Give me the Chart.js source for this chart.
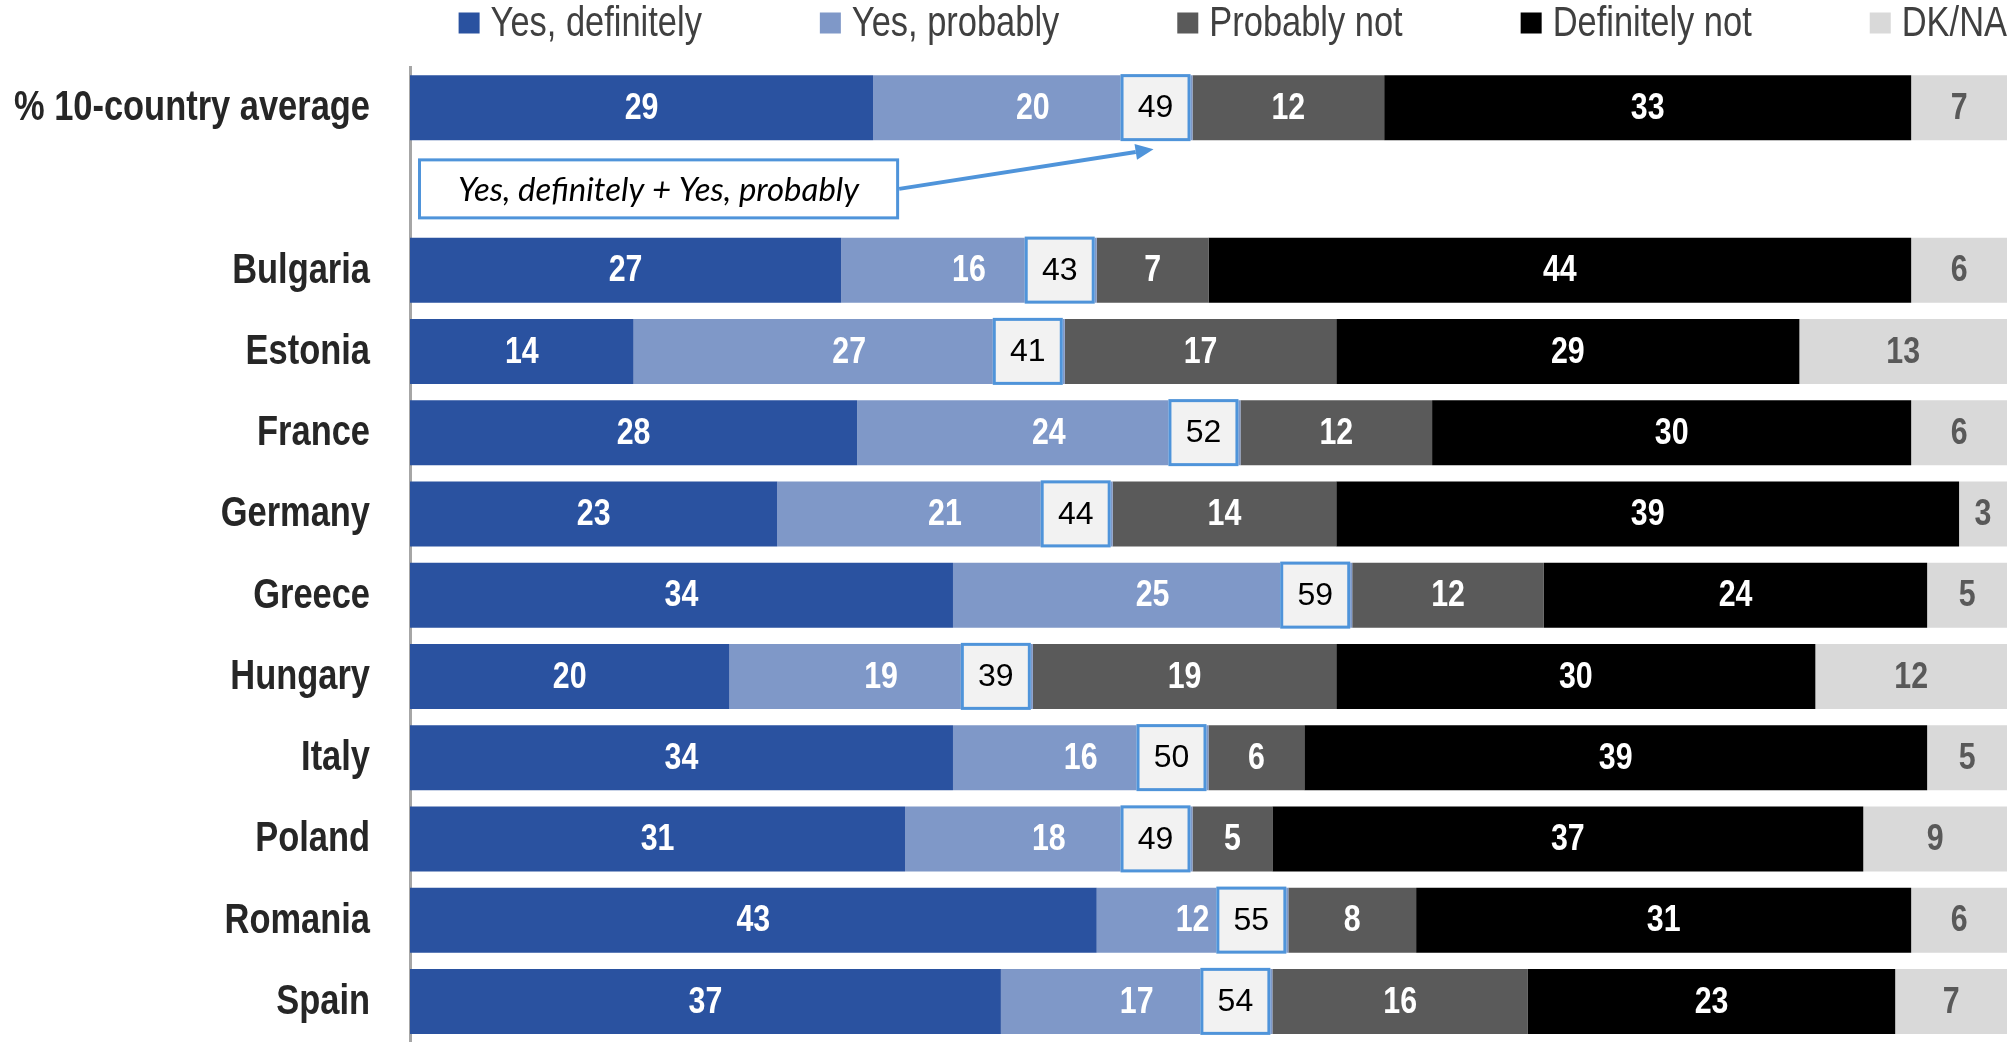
<!DOCTYPE html>
<html>
<head>
<meta charset="utf-8">
<script src="https://cdn.jsdelivr.net/npm/chart.js@4.4.1/dist/chart.umd.min.js"></script>
<style>
  html, body { margin: 0; padding: 0; background: #ffffff; overflow: hidden; }
  canvas { display: block; }
</style>
</head>
<body>
<canvas id="barChart" width="2015" height="1042"></canvas>
<script>
// categories (the empty one holds the annotation box)
var categories = ['% 10-country average', '', 'Bulgaria', 'Estonia', 'France', 'Germany', 'Greece',
                  'Hungary', 'Italy', 'Poland', 'Romania', 'Spain'];
var seriesNames = ['Yes, definitely', 'Yes, probably', 'Probably not', 'Definitely not', 'DK/NA'];

var yesDefinitely = [29, null, 27, 14, 28, 23, 34, 20, 34, 31, 43, 37];
var yesProbably   = [20, null, 16, 27, 24, 21, 25, 19, 16, 18, 12, 17];
var probablyNot   = [12, null, 7, 17, 12, 14, 12, 19, 6, 5, 8, 16];
var definitelyNot = [33, null, 44, 29, 30, 39, 24, 30, 39, 37, 31, 23];
var dkNa          = [7, null, 6, 13, 6, 3, 5, 12, 5, 9, 6, 7];
// Yes, definitely + Yes, probably
var yesTotal      = [49, null, 43, 41, 52, 44, 59, 39, 50, 49, 55, 54];
var annotationText = 'Yes, definitely + Yes, probably';

var colors = ['#2a52a0', '#7f98c8', '#5a5a5a', '#000000', '#d9d9d9'];
var labelColors = ['#ffffff', '#ffffff', '#ffffff', '#ffffff', '#595959'];
var SANS = "'Liberation Sans', Arial, sans-serif";
var NARROW = 0.82; // no narrow face installed, so squeeze Liberation Sans like Arial Narrow

var seriesData = [yesDefinitely, yesProbably, probablyNot, definitelyNot, dkNa];
var datasets = [];
for (var s = 0; s < seriesData.length; s++) {
    datasets.push({
        label: seriesNames[s],
        data: seriesData[s],
        backgroundColor: colors[s],
        borderWidth: 0,
        barPercentage: 0.8,
        categoryPercentage: 1.0
    });
}

function narrowText(ctx, text, x, y, align) {
    ctx.save();
    ctx.translate(x, y);
    ctx.scale(NARROW, 1);
    ctx.textAlign = align;
    ctx.fillText(text, 0, 0);
    ctx.restore();
}

// value labels inside segments + the total boxes + the annotation
var overlayPlugin = {
    id: 'overlay',
    afterDatasetsDraw: function(chart) {
        var ctx = chart.ctx;
        var area = chart.chartArea;
        var xScale = chart.scales.x;
        var yScale = chart.scales.y;
        ctx.save();
        ctx.textBaseline = 'middle';

        // category labels
        ctx.font = 'bold 42px ' + SANS;
        ctx.fillStyle = '#262626';
        for (var c = 0; c < categories.length; c++) {
            if (!categories[c]) continue;
            narrowText(ctx, categories[c], area.left - 40, yScale.getPixelForValue(c) + 1, 'right');
        }

        ctx.font = 'bold 37px ' + SANS;
        for (var d = 0; d < chart.data.datasets.length; d++) {
            var meta = chart.getDatasetMeta(d);
            ctx.fillStyle = labelColors[d];
            for (var j = 0; j < meta.data.length; j++) {
                var v = chart.data.datasets[d].data[j];
                if (v === null) continue;
                var el = meta.data[j];
                var x1 = Math.min(el.x, area.right);
                var x0 = Math.min(el.base, area.right);
                narrowText(ctx, String(v), (x0 + x1) / 2, el.y + 1, 'center');
            }
        }

        // total boxes
        var metaP = chart.getDatasetMeta(1);
        var boxW = 70;
        var avgBox = null;
        ctx.textAlign = 'center';
        for (var i = 0; i < yesTotal.length; i++) {
            if (yesTotal[i] === null) continue;
            var bar = metaP.data[i];
            var right = xScale.getPixelForValue(yesTotal[i]) - 2;
            var left = right - boxW;
            var top = bar.y - bar.height / 2 - 1;
            var h = bar.height + 2;
            ctx.fillStyle = '#f2f2f2';
            ctx.fillRect(left, top, boxW, h);
            ctx.strokeStyle = '#4f94da';
            ctx.lineWidth = 3;
            ctx.strokeRect(left + 1.5, top + 1.5, boxW - 3, h - 3);
            ctx.fillStyle = '#000000';
            ctx.font = '32px ' + SANS;
            ctx.fillText(String(yesTotal[i]), left + boxW / 2, bar.y + 1);
            if (i === 0) avgBox = {left: left, bottom: top + h};
        }

        // annotation box in the empty row
        ctx.font = 'italic 33px Lato, sans-serif';
        var tw = ctx.measureText(annotationText).width;
        var cy = yScale.getPixelForValue(1);
        var bx = area.left + 8;
        var bw = tw + 80;
        var bh = 61;
        ctx.fillStyle = '#ffffff';
        ctx.fillRect(bx, cy - bh / 2, bw, bh);
        ctx.strokeStyle = '#4f94da';
        ctx.lineWidth = 3;
        ctx.strokeRect(bx + 1.5, cy - bh / 2 + 1.5, bw - 3, bh - 3);
        ctx.fillStyle = '#000000';
        ctx.fillText(annotationText, bx + bw / 2, cy + 1);

        // arrow to the average total box
        if (avgBox) {
            var sx = bx + bw, sy = cy;
            var tx = avgBox.left + 33, ty = avgBox.bottom + 8;
            var ang = Math.atan2(ty - sy, tx - sx);
            var hl = 18, hw = 8;
            var bxp = tx - hl * Math.cos(ang), byp = ty - hl * Math.sin(ang);
            ctx.strokeStyle = '#4f94da';
            ctx.lineWidth = 4;
            ctx.beginPath();
            ctx.moveTo(sx, sy);
            ctx.lineTo(bxp, byp);
            ctx.stroke();
            ctx.fillStyle = '#4f94da';
            ctx.beginPath();
            ctx.moveTo(tx, ty);
            ctx.lineTo(bxp + hw * Math.sin(ang), byp - hw * Math.cos(ang));
            ctx.lineTo(bxp - hw * Math.sin(ang), byp + hw * Math.cos(ang));
            ctx.closePath();
            ctx.fill();
        }
        ctx.restore();
    },
    afterDraw: function(chart) {
        // legend row along the top, right edge on the plot's right edge
        var ctx = chart.ctx;
        var area = chart.chartArea;
        var box = 21, textGap = 11, itemGap = 118, cy = 23;
        ctx.save();
        ctx.font = '42px ' + SANS;
        ctx.textBaseline = 'middle';
        var widths = [], total = 0;
        for (var k = 0; k < chart.data.datasets.length; k++) {
            var w = box + textGap + ctx.measureText(chart.data.datasets[k].label).width * NARROW;
            widths.push(w);
            total += w + (k > 0 ? itemGap : 0);
        }
        var x = area.right - total;
        for (var m = 0; m < chart.data.datasets.length; m++) {
            ctx.fillStyle = chart.data.datasets[m].backgroundColor;
            ctx.fillRect(x, cy - box / 2, box, box);
            ctx.fillStyle = '#404040';
            narrowText(ctx, chart.data.datasets[m].label, x + box + textGap, cy + 1, 'left');
            x += widths[m] + itemGap;
        }
        ctx.restore();
    }
};

var CHART = document.getElementById('barChart');
var barChart = new Chart(CHART, {
    type: 'bar',
    data: {
        labels: categories,
        datasets: datasets
    },
    options: {
        indexAxis: 'y',
        responsive: false,
        animation: false,
        layout: { padding: { top: 67, left: 10, right: 8, bottom: 0 } },
        plugins: {
            legend: { display: false },
            tooltip: { enabled: false }
        },
        scales: {
            x: {
                stacked: true,
                min: 0,
                max: 100,
                display: false
            },
            y: {
                stacked: true,
                afterFit: function(scale) { scale.width = 400; },
                grid: { display: false, drawTicks: false },
                border: { display: true, color: '#a6a6a6', width: 3 },
                ticks: { display: false, autoSkip: false }
            }
        }
    },
    plugins: [overlayPlugin]
});
</script>
</body>
</html>
